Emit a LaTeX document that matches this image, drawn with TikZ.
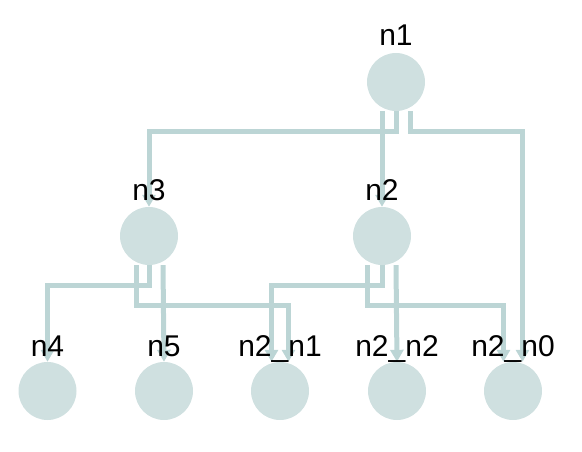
\documentclass[tikz,border=0pt]{standalone}
\usepackage{fontspec}
\setmainfont{Liberation Sans}
\usetikzlibrary{arrows.meta}
\definecolor{nodefill}{RGB}{207,224,224}
\definecolor{edgecol}{RGB}{188,213,213}
\begin{document}
\begin{tikzpicture}[x=1pt,y=-1pt,
  vert/.style={circle,fill=nodefill,draw=none,minimum size=58pt,inner sep=0pt},
  lbl/.style={anchor=base,inner sep=0pt,font=\fontsize{30pt}{36pt}\selectfont,text=black},
  edge/.style={draw=edgecol,line width=5pt,-{Triangle[length=12pt,width=13pt]}}]
\useasboundingbox (0,0) rectangle (582,452);
% nodes
\node[vert] (n1) at (396,82) {};
\node[vert] (n3) at (149,236) {};
\node[vert] (n2) at (382,236) {};
\node[vert] (n4) at (47.5,391) {};
\node[vert] (n5) at (164,391) {};
\node[vert] (n21) at (280,391) {};
\node[vert] (n22) at (397,391) {};
\node[vert] (n20) at (513,391) {};
% edges
\draw[edge] ([xshift=-14pt]n1.south) -- (n2.north);
\draw[edge] (n1.south) -- ++(0,20) -| (n3.north);
\draw[edge] ([xshift=14pt]n1.south) -- ++(0,20) -| ([xshift=9.5pt]n20.north);
\draw[edge] (n3.south) -- ++(0,20) -| (n4.north);
\draw[edge] ([xshift=-13pt]n3.south) -- ++(0,40) -| ([xshift=8.5pt]n21.north);
\draw[edge] ([xshift=14pt]n3.south) -- (n5.north);
\draw[edge] (n2.south) -- ++(0,20) -| ([xshift=-8.5pt]n21.north);
\draw[edge] ([xshift=-15pt]n2.south) -- ++(0,40) -| ([xshift=-9.5pt]n20.north);
\draw[edge] ([xshift=14pt]n2.south) -- (n22.north);
% labels
\node[lbl] (t1) at ([yshift=7pt]n1.north) {n1};
\node[lbl] (t3) at ([yshift=6pt]n3.north) {n3};
\node[lbl] (t2) at ([yshift=6pt]n2.north) {n2};
\node[lbl] (t4) at ([yshift=5pt]n4.north) {n4};
\node[lbl] (t5) at ([yshift=5pt]n5.north) {n5};
\node[lbl] (t21) at ([yshift=5pt]n21.north) {n2\_n1};
\node[lbl] (t22) at ([yshift=5pt]n22.north) {n2\_n2};
\node[lbl] (t20) at ([yshift=5pt]n20.north) {n2\_n0};
\end{tikzpicture}
\end{document}
